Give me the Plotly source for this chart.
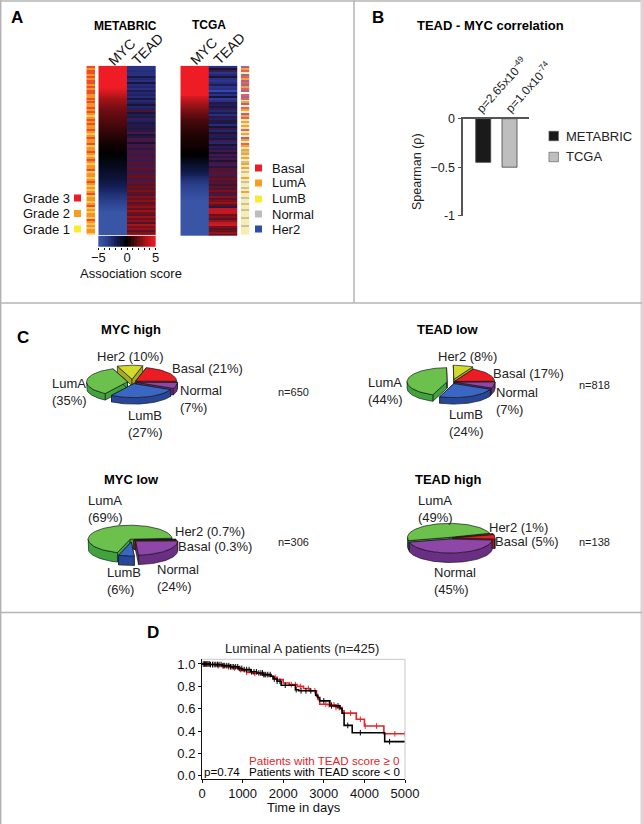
import math
import plotly.graph_objects as go

W, H = 643, 824
FONT = "Liberation Sans"

# ---------- Panel A data (rows top to bottom) ----------
rows = list(range(85))
myc_metabric = [5,5,5,5,5,5,5,5,5,5,5,4.8,4.5,4.2,3.9,3.5,3.2,3.0,2.8,2.6,2.4,2.2,2.0,1.9,1.8,1.7,1.6,1.5,1.4,1.3,
                1.2,1.1,1.0,.9,.8,.7,.6,.5,.4,.3,.25,.2,.1,0,-.1,-.2,-.3,-.4,-.5,-.6,-.7,-.8,-.9,-1,-1.1,-1.2,-1.35,-1.5,-1.65,-1.8,
                -2,-2.2,-2.4,-2.6,-2.8,-3,-3.2,-3.4,-3.6,-3.9,-4.2,-4.5,-4.8,-5,-5,-5,-5,-5,-5,-5,-5,-5,-5,-5,-5]
tead_metabric = [-3,-3.2,-2.8,-3,-3.1,-1.5,-2.6,-3,-1.2,-2.8,-2.4,-3,-1.8,-2.6,-2.2,
                 -2.8,-1.4,-2.6,-2.2,-1,-2.4,-2,1,-1.2,-2,-1.6,0,-2.2,-1.4,-1.8,
                 -.5,-1.5,-.4,.2,-1.2,-.5,.2,.6,-1,-.1,.7,-.4,.3,.6,-.2,
                 .9,.3,-.1,1.3,.6,.2,1.5,.8,.1,1.4,1.8,.6,.2,1.7,1,
                 2,1.2,2.4,1.4,.8,2.6,1.8,2.8,1.2,2.2,3,1.6,3.2,2.2,1.2,
                 3.3,2,2.8,1,3.5,2.4,3.1,1.2,2.6,3.8]
myc_tcga = [5,5,5,5,5,5,5,5,5,5,5,5,5,5,5,4.4,4.0,3.7,3.4,3.1,2.8,2.5,2.3,2.1,1.9,1.7,1.5,1.35,1.2,1.1,
            1.0,.9,.8,.7,.6,.55,.5,.45,.4,.35,.3,.2,.1,.05,0,-.2,-.4,-.6,-.8,-1,-1.2,-1.4,-1.6,-1.8,-2.1,-2.4,-2.7,-3,-3.2,-3.4,
            -3.6,-3.8,-4,-4.2,-4.4,-4.6,-4.8,-5,-5,-5,-5,-5,-5,-5,-5,-5,-5,-5,-5,-5,-5,-5,-5,-5,-5]
tead_tcga = [-3,-1,0,-3.4,-2.6,-1.2,-3,-3.6,-2.8,-2,-3.4,-3,-4.6,-2.2,-3.2,
             -1.2,-4,-3,-.5,-2,-1.4,-.2,-2.6,-1.8,-3,-.4,-2.2,-.6,-1.6,-2.8,
             -1,-.2,-2.4,-1.2,-.3,-2,-1.4,.2,-2.6,-1,-.2,-1.8,.4,-1.2,.2,
             -.4,.3,-1.2,.6,0,-.6,1.2,.4,1.6,0,.8,2,.6,1.4,-.4,
             1.8,.8,2.4,1.2,0,2.8,1.4,2.4,3.2,1.6,-.4,4.2,4.4,4.2,2,
             2.8,1.2,3.2,4.4,4.6,2.4,1.2,2,3.2,1.8]
grade_strip = [3,2,3,3,2,3,2,3,3,2,3,2,3,3,2,
               2,3,2,3,2,2,3,2,3,2,1,2,3,2,3,
               2,2,3,2,1,2,3,2,2,3,1,2,2,3,2,
               1,2,3,2,1,2,2,3,1,2,2,1,2,3,2,
               1,2,1,2,3,1,2,2,1,2,3,1,2,1,2,
               2,1,3,2,1,2,1,2,2,1]
subtype_strip = [4,1,0,2,4,0,1,4,0,4,1,0,4,None,0,
                 4,0,2,1,4,2,0,1,2,4,1,0,2,1,2,
                 1,2,0,2,1,2,4,1,2,0,1,2,1,3,1,
                 2,1,2,3,1,2,1,2,3,2,2,1,2,3,2,
                 2,3,2,1,2,2,3,2,2,3,2,2,3,2,2,
                 2,3,2,2,2,3,2,2,2,2]
score_scale = [-5,-4.5,-4,-3.5,-3,-2.5,-2,-1.5,-1,-.5,0,.5,1,1.5,2,2.5,3,3.5,4,4.5,5]
heat_columns = ["MYC", "TEAD"]
grade_labels = ["Grade 3", "Grade 2", "Grade 1"]
subtype_labels = ["Basal", "LumA", "LumB", "Normal", "Her2"]

# ---------- Panel B data ----------
cohorts = ["METABRIC", "TCGA"]
spearman = [-0.45, -0.5]

# ---------- Panel C data (percent, clockwise from start angle) ----------
pie_myc_high = {"Basal": 21, "Normal": 7, "LumB": 27, "LumA": 35, "Her2": 10}
pie_tead_low = {"Basal": 17, "Normal": 7, "LumB": 24, "LumA": 44, "Her2": 8}
pie_myc_low = {"Her2": 0.7, "Basal": 0.3, "Normal": 24, "LumB": 6, "LumA": 69}
pie_tead_high = {"Her2": 1, "Basal": 5, "Normal": 45, "LumA": 49}

# ---------- Panel D data ----------
km_red_t = [0,150,350,550,750,900,1000,1100,1250,1450,1650,1750,1850,2000,2150,2350,2500,2650,2820,2860,2900,3100,3300,3450,3500,3800,4000,4480,5000]
km_red_s = [1,.995,.985,.975,.965,.95,.94,.925,.915,.905,.89,.88,.86,.83,.815,.80,.78,.76,.71,.68,.64,.635,.61,.58,.56,.505,.445,.375,.375]
km_blk_t = [0,200,500,700,900,1000,1200,1350,1500,1700,1750,1850,1950,2300,2380,2800,2850,2900,3150,3400,3450,3500,3700,4500,5000]
km_blk_s = [1,.995,.985,.975,.96,.95,.93,.92,.905,.89,.865,.845,.81,.77,.76,.72,.70,.67,.625,.60,.56,.45,.385,.305,.305]
cens_red = [120,260,400,520,650,800,950,1100,1300,1520,1800,2200,2300,2420,2620,2780,2850,3050,3130,3190,3250,3300,3380,3450,3660,3900,4020,4300,4750,5000]
cens_blk = [30,60,90,120,150,180,210,260,300,340,380,420,470,520,560,610,660,700,740,780,830,880,930,980,1040,1100,1160,1220,1280,1340,1400,1450,1490,1530,1570,1620,1680,1780,1850,1920,2050,2320,2440,2560,2680,3000,3190,3350,3590,3900,4620]


def step_at(t, ts, ss):
    v = ss[0]
    for a, b in zip(ts, ss):
        if a <= t:
            v = b
    return v


def X(x):
    return x / W


def Y(y):
    return 1 - y / H


fig = go.Figure()
layout_axes = {}
ax_n = [0]


def new_axes(x0, x1, y0, y1, xkw, ykw):
    ax_n[0] += 1
    n = ax_n[0]
    s = "" if n == 1 else str(n)
    layout_axes["xaxis" + s] = dict(domain=[X(x0), X(x1)], anchor="y" + s, automargin=False, **xkw)
    layout_axes["yaxis" + s] = dict(domain=[Y(y1), Y(y0)], anchor="x" + s, automargin=False, **ykw)
    return "x" + s, "y" + s


hidden = dict(visible=False, showgrid=False, zeroline=False)
MYC_SCALE = [[0, "#3A55A6"], [.15, "#2C4290"], [.3, "#141F58"], [.5, "#000000"], [.7, "#6B0D12"], [.85, "#B01519"], [1, "#EE1C25"]]
TEAD_SCALE = [[0, "#3A55C0"], [.1, "#2E3A9A"], [.2, "#28307F"], [.3, "#1C1F5A"], [.4, "#1A1230"], [.5, "#3D1A50"], [.6, "#4F1330"],
              [.7, "#6E1018"], [.8, "#8E1218"], [.9, "#B8161E"], [1, "#D81E26"]]
GRADE_SCALE = [[0, "#FCC556"], [.5, "#F79420"], [1, "#EF4C2A"]]
SUB_COL = ["#E8605A", "#F6A23C", "#F7EDB4", "#C9C39A", "#A06A90"]
SUB_SCALE = []
for i, c in enumerate(SUB_COL):
    SUB_SCALE += [[i / 5, c], [(i + 1) / 5, c]]


def heat_panel(x0, x1, y0, y1, myc, tead):
    ax, ay = new_axes(x0, x1, y0, y1,
                      dict(hidden, range=[-.5, 1.5]),
                      dict(hidden, range=[84.5, -.5]))
    for col, (vals, sc) in enumerate(((myc, MYC_SCALE), (tead, TEAD_SCALE))):
        fig.add_trace(go.Heatmap(x0=col, dx=1, y=rows, z=[[v] for v in vals], zmin=-5, zmax=5, colorscale=sc,
                                 showscale=False, xaxis=ax, yaxis=ay, hoverinfo="skip"))


heat_panel(98.3, 155.7, 65.7, 235.3, myc_metabric, tead_metabric)
heat_panel(180.3, 237.3, 65.7, 236, myc_tcga, tead_tcga)

ax, ay = new_axes(86.3, 95, 65.7, 235, dict(hidden, range=[-.5, .5]), dict(hidden, range=[84.5, -.5]))
fig.add_trace(go.Heatmap(x0=0, dx=1, y=rows, z=[[v] for v in grade_strip], zmin=1, zmax=3, colorscale=GRADE_SCALE,
                         showscale=False, xaxis=ax, yaxis=ay, hoverinfo="skip"))
ax, ay = new_axes(240.7, 249.3, 65.7, 235, dict(hidden, range=[-.5, .5]), dict(hidden, range=[84.5, -.5]))
fig.add_trace(go.Heatmap(x0=0, dx=1, y=rows, z=[[v] for v in subtype_strip], zmin=-.5, zmax=4.5, colorscale=SUB_SCALE,
                         showscale=False, xaxis=ax, yaxis=ay, hoverinfo="skip"))

ax, ay = new_axes(98.3, 155.7, 236, 246.7,
                  dict(range=[-5, 5], tickvals=[-5, 0, 5], ticktext=["\u22125", "0", "5"], ticks="outside", ticklen=2, tickcolor="#111",
                       showgrid=False, zeroline=False, showline=False, tickfont=dict(family=FONT, size=13, color="#111"),
                       ticklabelstandoff=-3,
                       minor=dict(dtick=1, ticks="outside", ticklen=2, tickcolor="#111", showgrid=False)),
                  dict(hidden, range=[-.5, .5]))
fig.add_trace(go.Heatmap(x=score_scale, y0=0, dy=1, z=[score_scale], zmin=-5, zmax=5, colorscale=MYC_SCALE,
                         showscale=False, xaxis=ax, yaxis=ay, hoverinfo="skip"))

# Panel B axes
ax, ay = new_axes(463.3, 529, 118.7, 215.7,
                  dict(type="category", range=[-.757, 1.74], side="top", showticklabels=False, ticks="", showline=True,
                       linecolor="#555", linewidth=1.5, showgrid=False, zeroline=False),
                  dict(range=[-1, 0], tickvals=[0, -.5, -1], ticktext=["0", "\u22120.5", "-1"], ticks="outside", ticklen=4, tickcolor="#555",
                       showline=True, linecolor="#555", linewidth=1.5, showgrid=False, zeroline=False,
                       tickfont=dict(family=FONT, size=12.5, color="#222")))
fig.add_trace(go.Bar(x=cohorts, y=spearman, width=.57, marker=dict(color=["#1A1A1A", "#BEBEBE"], line=dict(color="#444", width=.8)),
                     showlegend=False, xaxis=ax, yaxis=ay, hoverinfo="skip"))

# Panel D axes
km_x0, km_x1, km_y0, km_y1 = 202, 405, 659.3, 778.7
ax, ay = new_axes(km_x0, km_x1, km_y0, km_y1,
                  dict(range=[0, 5000], tickvals=[0, 1000, 2000, 3000, 4000, 5000], ticks="outside", ticklen=3, tickcolor="#111",
                       showline=True, linecolor="#111", linewidth=1, showgrid=False, zeroline=False,
                       tickfont=dict(family=FONT, size=13, color="#111")),
                  dict(range=[-.027, 1.042], tickvals=[0, .2, .4, .6, .8, 1], tickformat=".1f", ticks="outside", ticklen=3, tickcolor="#111",
                       showline=True, linecolor="#111", linewidth=1, showgrid=False, zeroline=False,
                       tickfont=dict(family=FONT, size=13, color="#111")))
for ts, ss, cens, col in ((km_red_t, km_red_s, cens_red, "#E2242B"), (km_blk_t, km_blk_s, cens_blk, "#000000")):
    fig.add_trace(go.Scatter(x=ts, y=ss, mode="lines", line=dict(color=col, width=1.6, shape="hv"), showlegend=False,
                             xaxis=ax, yaxis=ay, hoverinfo="skip"))
    fig.add_trace(go.Scatter(x=cens, y=[step_at(t, ts, ss) for t in cens], mode="markers",
                             marker=dict(symbol="line-ns", size=4, line=dict(color=col, width=1)), showlegend=False,
                             xaxis=ax, yaxis=ay, hoverinfo="skip"))

# Full-page overlay axes for frame, swatches and pies
ox, oy = new_axes(0, W, 0, H, dict(hidden, range=[0, W]), dict(hidden, range=[H, 0]))

# ---------- 3-D looking pies, built from the percentages ----------
PIE_COL = {"Basal": ("#EC1C24", "#B5141B"), "Normal": ("#8E46A8", "#6A2E84"), "LumB": ("#3A66C4", "#27479A"),
           "LumA": ("#6CC04C", "#3FA43E"), "Her2": ("#D2DB2C", "#A4AC1E")}


def poly(xs, ys, col):
    fig.add_trace(go.Scatter(x=xs, y=ys, mode="lines", fill="toself", fillcolor=col, line=dict(color="#1a1a1a", width=.7),
                             showlegend=False, xaxis=ox, yaxis=oy, hoverinfo="skip"))


def pie3d(data, cx, cy, rx, ry, depth, start, explode):
    slices = []
    a = start
    for name, pct in data.items():
        b = a - pct * 3.6
        m = math.radians((a + b) / 2)
        e = explode.get(name, 3)
        ox_, oy_ = cx + e * math.cos(m), cy - e * math.sin(m) * ry / rx
        slices.append((oy_ - 0.6 * ry * math.sin(m), name, a, b, ox_, oy_))
        a = b
    for _, name, a, b, sx, sy in sorted(slices):
        top, wall = PIE_COL[name]
        n = max(2, int(abs(a - b) / 3) + 1)
        ang = [math.radians(a + (b - a) * i / (n - 1)) for i in range(n)]
        ax_ = [sx + rx * math.cos(t) for t in ang]
        ay_ = [sy - ry * math.sin(t) for t in ang]
        # radial cut faces
        for t in (ang[0], ang[-1]):
            px_, py_ = sx + rx * math.cos(t), sy - ry * math.sin(t)
            poly([sx, px_, px_, sx, sx], [sy, py_, py_ + depth, sy + depth, sy], wall)
        # outer wall on the near side
        near = [t for t in ang if math.sin(t) <= 0.02]
        if len(near) >= 2:
            wx = [sx + rx * math.cos(t) for t in near]
            wy = [sy - ry * math.sin(t) for t in near]
            poly(wx + wx[::-1] + wx[:1], wy + [v + depth for v in wy[::-1]] + wy[:1], wall)
        poly([sx] + ax_ + [sx], [sy] + ay_ + [sy], top)


pie3d(pie_myc_high, 132.5, 382, 41, 14, 6.5, 75, {"LumA": 5, "Her2": 8, "Basal": 4, "Normal": 4, "LumB": 5})
pie3d(pie_tead_low, 452, 382, 40, 14, 6.5, 62, {"LumA": 5, "Her2": 8, "Basal": 3, "Normal": 3, "LumB": 5})
pie3d(pie_myc_low, 132, 540, 42, 14, 9.5, 4, {"LumA": 3, "Her2": 2, "Basal": 2, "Normal": 5, "LumB": 6})
pie3d(pie_tead_high, 450, 538, 42, 14, 9.5, 17, {"LumA": 2, "Her2": 3, "Basal": 3, "Normal": 3})

# Swatches
def swatches(xs, ys, cols, sym="square", size=7):
    fig.add_trace(go.Scatter(x=xs, y=ys, mode="markers", marker=dict(symbol=sym, size=size, color=cols, line=dict(width=0)),
                             showlegend=False, xaxis=ox, yaxis=oy, hoverinfo="skip"))


GRADE_COL = ["#ED1C24", "#F99D1F", "#F9ED32"]
SUB_LEG = ["#ED1C24", "#F99D1F", "#F9ED32", "#BDBDBD", "#2F4FA5"]
grade_y = [198, 213.5, 229]
sub_y = [168, 183, 199, 214, 229]
swatches([77.5] * 3, grade_y, GRADE_COL)
swatches([258.5] * 5, sub_y, SUB_LEG)
fig.add_trace(go.Scatter(x=[553.7, 553.7], y=[136, 157], mode="markers",
                         marker=dict(symbol="square", size=9.5, color=["#1A1A1A", "#BEBEBE"], line=dict(width=.6, color="#555")),
                         showlegend=False, xaxis=ox, yaxis=oy, hoverinfo="skip"))

# ---------- text ----------
ann = []


def T(x, y, text, anchor="center", size=13, bold=False, color="#111", angle=0):
    ann.append(dict(x=X(x), y=Y(y), xref="paper", yref="paper", xanchor=anchor, yanchor="middle", text=("<b>%s</b>" % text) if bold else text,
                    showarrow=False, textangle=angle, align="left" if anchor == "left" else "center",
                    font=dict(family=FONT, size=size, color=color), borderpad=0, borderwidth=0))


T(11, 17, "A", "left", 17, True, "#000")
T(372, 17, "B", "left", 17, True, "#000")
T(17, 337, "C", "left", 17, True, "#000")
T(147, 632, "D", "left", 17, True, "#000")

T(125.5, 26, "METABRIC", size=12, bold=True, color="#000")
T(208.5, 25, "TCGA", size=12, bold=True, color="#000")
for x, y, lab in [(121.7, 51.7, heat_columns[0]), (147.5, 49.3, heat_columns[1]), (203.8, 51, heat_columns[0]), (229, 49.3, heat_columns[1])]:
    T(x, y, lab, size=14, angle=-45)
for lab, y in zip(grade_labels, grade_y):
    T(69.5, y, lab, "right")
for lab, y in zip(subtype_labels, sub_y):
    T(272, y, lab, "left")
T(131, 273.5, "Association score")

T(490.5, 26, "TEAD - MYC correlation", size=13, bold=True, color="#000")
T(417, 172, "Spearman (\u03c1)", size=12.5, angle=-90, color="#222")
T(501, 85, "p=2.65x10<sup>-49</sup>", size=12, angle=-48, color="#222")
T(528, 87, "p=1.0x10<sup>-74</sup>", size=12, angle=-48, color="#222")
for lab, y in zip(cohorts, [136, 157]):
    T(565.7, y, lab, "left", color="#222")

# Panel C labels
for x, y, t in [(131, 329, "MYC high"), (131, 480, "MYC low"), (448, 329, "TEAD low"), (448, 480, "TEAD high")]:
    T(x, y, t, bold=True, color="#000")
for x, y, t in [(96.7, 356.7, "Her2 (10%)"), (172, 368, "Basal (21%)"), (180, 399, "Normal<br>(7%)"), (51.7, 392, "LumA<br>(35%)"),
                (128, 424, "LumB<br>(27%)"),
                (88, 509, "LumA<br>(69%)"), (175, 531.7, "Her2 (0.7%)"), (177.7, 546.7, "Basal (0.3%)"), (156.7, 578, "Normal<br>(24%)"),
                (107.3, 581, "LumB<br>(6%)"),
                (438.3, 356.7, "Her2 (8%)"), (493, 373, "Basal (17%)"), (495.7, 400.5, "Normal<br>(7%)"), (368.3, 391, "LumA<br>(44%)"),
                (449, 423, "LumB<br>(24%)"),
                (417.7, 509, "LumA<br>(49%)"), (489, 527, "Her2 (1%)"), (495, 541.7, "Basal (5%)"), (434.3, 581, "Normal<br>(45%)")]:
    T(x, y, t, "left", color="#222")
for x, y, t in [(278, 392, "n=650"), (278, 541.7, "n=306"), (579, 384.7, "n=818"), (579, 541.7, "n=138")]:
    T(x, y, t, "left", size=11, color="#222")

# Panel D labels
T(302, 648, "Luminal A patients (n=425)", size=13, color="#222")
T(303.7, 807, "Time in days", color="#111")
T(400, 760.7, "Patients with TEAD score \u2265 0", "right", 11.6, color="#E2242B")
T(400, 771.7, "Patients with TEAD score &lt; 0", "right", 11.6, color="#000")
T(203.5, 771.7, "p=0.74", "left", 11.6, color="#000")

# Frame and KM box
shapes = []


def L(x0, y0, x1, y1, col="#B4B4B4", w=1.5):
    shapes.append(dict(type="line", xref=ox, yref=oy, x0=x0, y0=y0, x1=x1, y1=y1, line=dict(color=col, width=w)))


L(0, 1, 642, 1)
L(0.7, 0, 0.7, 824)
L(641.7, 0, 641.7, 824, "#D8D8D8", 2.5)
L(354, 0, 354, 303)
L(0, 303, 642, 303)
L(0, 612.5, 642, 612.5)
L(km_x0, km_y0, km_x1, km_y0, "#C8C8C8", 1)
L(km_x1, km_y0, km_x1, km_y1, "#C8C8C8", 1)

fig.update_layout(width=W, height=H, margin=dict(l=0, r=0, t=0, b=0), autosize=False, paper_bgcolor="white", plot_bgcolor="rgba(0,0,0,0)",
                  showlegend=False, annotations=ann, shapes=shapes, **layout_axes)
fig.write_html("out.html", default_width="643px", default_height="824px",
               config=dict(displayModeBar=False, responsive=False),
               post_script="document.documentElement.style.margin='0';document.body.style.margin='0';document.body.style.padding='0';document.body.style.overflow='hidden';")
